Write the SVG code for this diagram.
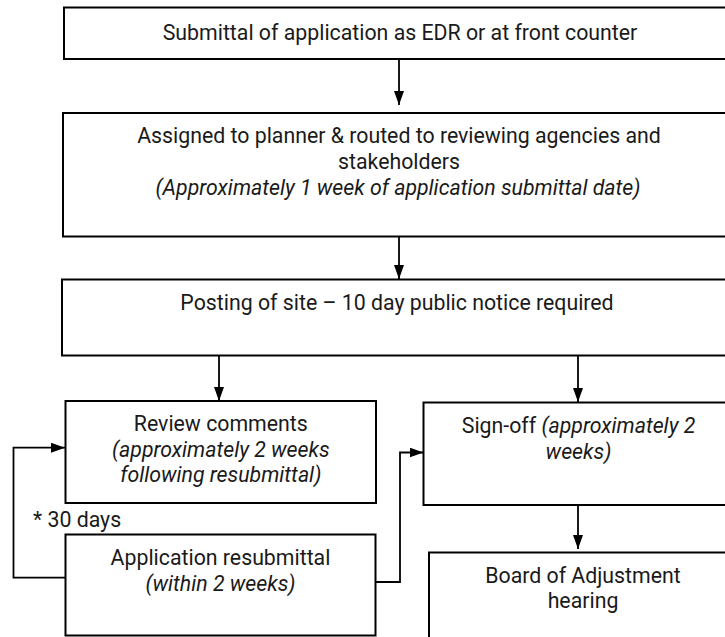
<svg xmlns="http://www.w3.org/2000/svg" width="725" height="637" viewBox="0 0 725 637">
<defs>
<style>
.box{fill:#fff;stroke:#000;stroke-width:2}
.t{font-family:Roboto,"Liberation Sans",sans-serif;font-size:21.3px;fill:#1a1a1a;text-anchor:middle}
.i{font-style:italic}
.c{fill:none;stroke:#000;stroke-width:1.8}
</style>
<marker id="ah" markerUnits="userSpaceOnUse" markerWidth="15" markerHeight="11" refX="14" refY="5" orient="auto">
<path d="M0,0 L14,5 L0,10 z" fill="#000"/>
</marker>
</defs>
<rect width="725" height="637" fill="#fff"/>
<g id="connectors">
<path class="c" d="M399,59 V105" marker-end="url(#ah)"/>
<path class="c" d="M399,234 V279" marker-end="url(#ah)"/>
<path class="c" d="M219,355 V401" marker-end="url(#ah)"/>
<path class="c" d="M578,355 V402" marker-end="url(#ah)"/>
<path class="c" d="M578,503 V549" marker-end="url(#ah)"/>
<path class="c" d="M65.5,577.7 H13.5 V447.7 H65" marker-end="url(#ah)"/>
<path class="c" d="M375.5,582 H400 V452.5 H423.5" marker-end="url(#ah)"/>
</g>
<g id="n1">
<rect class="box" x="64" y="7.5" width="672" height="51.5"/>
<text class="t" x="400" y="40">Submittal of application as EDR or at front counter</text>
</g>
<g id="n2">
<rect class="box" x="63" y="113" width="673" height="123.5"/>
<text class="t" x="399" y="143">Assigned to planner &amp; routed to reviewing agencies and</text>
<text class="t" x="399" y="168.5">stakeholders</text>
<text class="t i" x="398" y="194.5">(Approximately 1 week of application submittal date)</text>
</g>
<g id="n3">
<rect class="box" x="62" y="279.5" width="672" height="76"/>
<text class="t" x="397" y="310">Posting of site – 10 day public notice required</text>
</g>
<g id="n4">
<rect class="box" x="65.5" y="401" width="310.5" height="102"/>
<text class="t" x="220.8" y="430.7">Review comments</text>
<text class="t i" x="220.8" y="456.5">(approximately 2 weeks</text>
<text class="t i" x="220.8" y="482.3">following resubmittal)</text>
</g>
<g id="n5">
<rect class="box" x="423.5" y="402.5" width="310" height="102.5"/>
<text class="t" x="578.5" y="433.3">Sign-off <tspan class="i">(approximately 2</tspan></text>
<text class="t i" x="578.5" y="458.5">weeks)</text>
</g>
<g id="n6">
<rect class="box" x="65.5" y="534.5" width="310" height="101"/>
<text class="t" x="220.5" y="565">Application resubmittal</text>
<text class="t i" x="220.5" y="591">(within 2 weeks)</text>
</g>
<g id="n7">
<rect class="box" x="429" y="552.5" width="308" height="90"/>
<text class="t" x="583" y="583">Board of Adjustment</text>
<text class="t" x="583" y="608">hearing</text>
</g>
<g id="note">
<text class="t" x="33" y="526.5" style="text-anchor:start">* 30 days</text>
</g>
</svg>
